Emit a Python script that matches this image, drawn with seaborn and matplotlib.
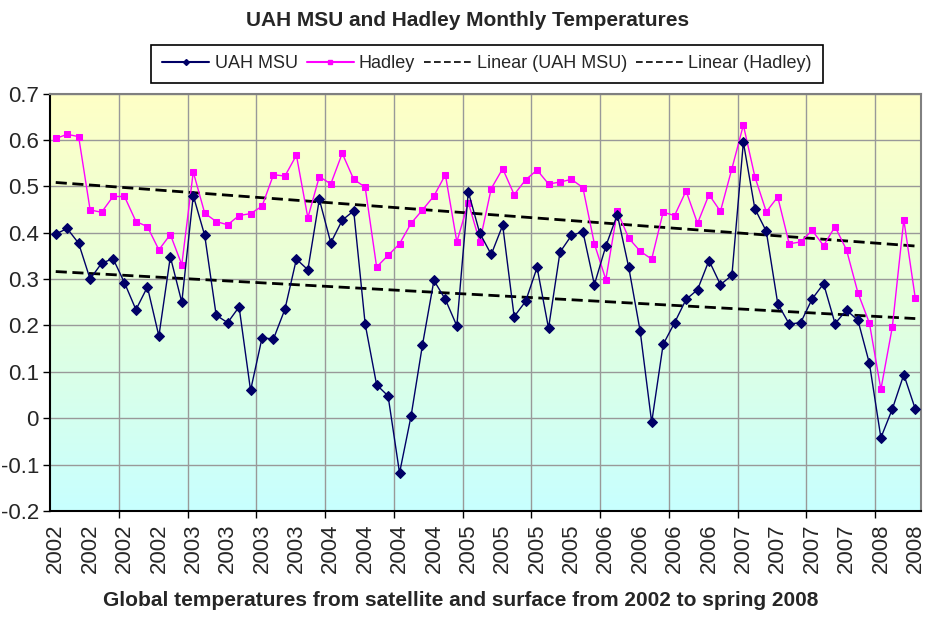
import numpy as np
import pandas as pd
import matplotlib
matplotlib.use('Agg')
import matplotlib.pyplot as plt
import seaborn as sns
from matplotlib.colors import LinearSegmentedColormap
from matplotlib.lines import Line2D

# monthly values, Jan 2002 .. Apr 2008
months = pd.date_range('2002-01-01', periods=76, freq='MS')

uah = [0.397, 0.409, 0.377, 0.300, 0.334, 0.344, 0.292, 0.234, 0.283, 0.177,
       0.348, 0.250, 0.480, 0.394, 0.222, 0.206, 0.240, 0.060, 0.173, 0.171,
       0.235, 0.343, 0.320, 0.472, 0.378, 0.427, 0.447, 0.203, 0.072, 0.048,
       -0.118, 0.004, 0.158, 0.297, 0.256, 0.199, 0.488, 0.399, 0.353, 0.416,
       0.219, 0.252, 0.325, 0.194, 0.358, 0.394, 0.402, 0.288, 0.371, 0.439,
       0.325, 0.187, -0.009, 0.159, 0.206, 0.256, 0.277, 0.340, 0.288, 0.308,
       0.595, 0.452, 0.403, 0.247, 0.203, 0.206, 0.257, 0.290, 0.204, 0.233,
       0.211, 0.118, -0.042, 0.020, 0.094, 0.020]

hadley = [0.603, 0.612, 0.607, 0.449, 0.444, 0.478, 0.478, 0.424, 0.413, 0.363,
          0.396, 0.331, 0.531, 0.442, 0.424, 0.417, 0.437, 0.441, 0.457, 0.525,
          0.522, 0.567, 0.432, 0.521, 0.505, 0.571, 0.515, 0.498, 0.326, 0.351,
          0.376, 0.420, 0.449, 0.479, 0.525, 0.380, 0.465, 0.380, 0.495, 0.538,
          0.482, 0.514, 0.535, 0.505, 0.509, 0.515, 0.497, 0.376, 0.299, 0.446,
          0.388, 0.360, 0.343, 0.444, 0.437, 0.490, 0.420, 0.482, 0.446, 0.538,
          0.632, 0.521, 0.445, 0.477, 0.376, 0.380, 0.405, 0.372, 0.413, 0.363,
          0.270, 0.205, 0.062, 0.197, 0.428, 0.259]

y_ticks = [-0.2, -0.1, 0, 0.1, 0.2, 0.3, 0.4, 0.5, 0.6, 0.7]
y_labels = ['-0.2', '-0.1', '0', '0.1', '0.2', '0.3', '0.4', '0.5', '0.6', '0.7']

df = pd.DataFrame({'idx': np.arange(len(months)), 'UAH MSU': uah, 'Hadley': hadley})

# Excel style linear trendlines
df['trend_uah'] = np.polyval(np.polyfit(df['idx'], df['UAH MSU'], 1), df['idx'])
df['trend_had'] = np.polyval(np.polyfit(df['idx'], df['Hadley'], 1), df['idx'])

sns.set_theme(style='white')
plt.rcParams['font.family'] = ['Liberation Sans', 'DejaVu Sans']

navy = '#000066'
magenta = '#FF00FF'

fig = plt.figure(figsize=(9.36, 6.17), dpi=100)
ax = fig.add_axes([50 / 936, 1 - 511 / 617, 871 / 936, (511 - 93.5) / 617])

# background gradient of the plot area
bg = LinearSegmentedColormap.from_list('bg', ['#FFFFC6', '#E4FFDC', '#C8FFFF'])
ax.imshow(np.linspace(0, 1, 256)[:, None], cmap=bg, aspect='auto',
          extent=[0, 1, 0, 1], transform=ax.transAxes, zorder=0)

sns.lineplot(data=df, x='idx', y='trend_uah', color='black', linewidth=2,
             linestyle=(0, (4, 2)), ax=ax, zorder=3)
sns.lineplot(data=df, x='idx', y='trend_had', color='black', linewidth=2,
             linestyle=(0, (4, 2)), ax=ax, zorder=3)
sns.lineplot(data=df, x='idx', y='Hadley', color=magenta, linewidth=1,
             marker='s', markersize=5, markeredgecolor=magenta, ax=ax, zorder=4)
sns.lineplot(data=df, x='idx', y='UAH MSU', color=navy, linewidth=1,
             marker='D', markersize=5, markeredgecolor=navy, ax=ax, zorder=5)

ax.set_xlim(-0.5, len(months) - 0.5)
ax.set_ylim(-0.2, 0.7)

# labels every 3 months, gridlines / tick marks every 6 months
ax.set_xticks(df['idx'][::3])
ax.set_xticklabels([str(m.year) for m in months[::3]], rotation=90, fontsize=16)
ax.set_xticks(np.arange(5.5, len(months) - 0.5, 6), minor=True)
ax.tick_params(axis='x', which='major', length=0, pad=9)
ax.tick_params(axis='x', which='minor', length=5, width=1, color='black', direction='out', bottom=True)
ax.set_yticks(y_ticks)
ax.set_yticklabels(y_labels, fontsize=16)
ax.tick_params(axis='y', length=5, width=1, color='black', direction='out', left=True, pad=3)

ax.grid(False)
ax.grid(True, axis='x', which='minor', color='#999999', linewidth=1)
ax.grid(True, axis='y', which='major', color='#999999', linewidth=1)
ax.set_axisbelow(True)

ax.set_xlabel('')
ax.set_ylabel('')
for side in ['left', 'bottom']:
    ax.spines[side].set_color('black')
    ax.spines[side].set_linewidth(1.5)
for side in ['top', 'right']:
    ax.spines[side].set_color('#808080')
    ax.spines[side].set_linewidth(1.5)

fig.text(468 / 936, 1 - 21 / 617, 'UAH MSU and Hadley Monthly Temperatures',
         ha='center', va='center', fontsize=15, fontweight='bold')
fig.text(461 / 936, 1 - 601 / 617,
         'Global temperatures from satellite and surface from 2002 to spring 2008',
         ha='center', va='center', fontsize=15, fontweight='bold')

handles = [
    Line2D([], [], color=navy, lw=1.5, marker='D', markersize=3),
    Line2D([], [], color=magenta, lw=1.5, marker='s', markersize=3),
    Line2D([], [], color='black', lw=1.2, linestyle=(0, (4, 2))),
    Line2D([], [], color='black', lw=1.2, linestyle=(0, (4, 2))),
]
leg = fig.legend(handles, ['UAH MSU', 'Hadley', 'Linear (UAH MSU)', 'Linear (Hadley)'],
                 loc='center', bbox_to_anchor=(487 / 936, 1 - 64 / 617), ncol=4,
                 frameon=True, fancybox=False, edgecolor='black', framealpha=1,
                 prop={'size': 13}, handlelength=2.6,
                 handletextpad=0.3, columnspacing=0.5, borderpad=0.6)
leg.get_frame().set_linewidth(1.2)

fig.savefig('out.png', dpi=100, facecolor='white')
